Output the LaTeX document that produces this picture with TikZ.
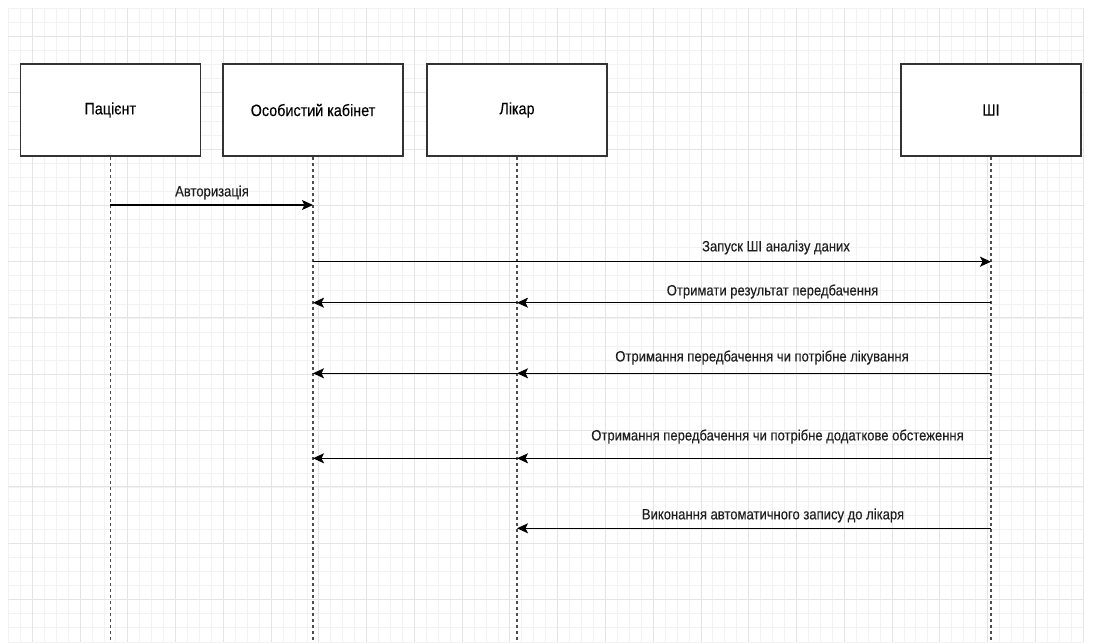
\documentclass[tikz,border=0pt]{standalone}
\usepackage{fontspec}
\setmainfont{Liberation Sans}[FakeStretch=0.87,FakeBold=0.2]
\usetikzlibrary{arrows.meta}
\definecolor{gridminor}{HTML}{F2F2F2}
\definecolor{gridmajor}{HTML}{E4E4E4}
\definecolor{lifegray}{HTML}{4D4D4D}
\definecolor{boxline}{HTML}{333333}

\begin{document}
\begin{tikzpicture}[x=1pt,y=-1pt,
    actor/.style={draw=boxline,line width=1.5pt,fill=white,minimum width=180pt,minimum height=92pt,inner sep=0pt,font=\fontsize{16.5}{18}\selectfont},
    lifeline/.style={draw=lifegray,line width=1.6pt,dash pattern=on 3.5pt off 2.5pt},
    msg/.style={draw=black,line width=1.2pt,-{Stealth[length=11pt,width=10pt,inset=2.5pt]}},
    msglabel/.style={font=\fontsize{15}{17}\selectfont,text=black!88,inner sep=0pt}]
        \useasboundingbox (0,0) rectangle (1094,642);
        \fill[white] (0,0) rectangle (1094,642);
        % Grid
        \foreach \i in {0,...,90}
            \draw[gridminor,line width=0.8pt] (8.4+\i*11.94,8.3) -- (8.4+\i*11.94,642);
        \foreach \j in {0,...,45}
            \draw[gridminor,line width=0.8pt] (8.4,8.3+\j*14.08) -- (1083,8.3+\j*14.08);
        \foreach \i in {0,...,22}
            \draw[gridmajor,line width=0.9pt] (32.3+\i*47.76,8.3) -- (32.3+\i*47.76,642);
        \foreach \j in {0,...,10}
            \draw[gridmajor,line width=0.9pt] (8.4,36.4+\j*56.3) -- (1083,36.4+\j*56.3);

        % Actors
        \node[actor] (pat) at (110.3,110) {Пацієнт};
        \node[actor] (cab) at (313,110) {Особистий кабінет};
        \node[actor] (doc) at (517,110) {Лікар};
        \node[actor] (ai) at (991,110) {ШІ};

        % Lifelines
        \draw[lifeline] (pat.south) -- (pat.south |- 0,642);
        \draw[lifeline] (cab.south) -- (cab.south |- 0,642);
        \draw[lifeline] (doc.south) -- (doc.south |- 0,642);
        \draw[lifeline] (ai.south) -- (ai.south |- 0,642);

        % Messages
        \draw[msg] (pat |- 0,205) -- (cab |- 0,205);
        \node[msglabel] (m1) at (212,192.5) {Авторизація};

        \draw[msg] (cab |- 0,261.7) -- (ai |- 0,261.7);
        \node[msglabel] (m2) at (776,247.5) {Запуск ШІ аналізу даних};

        \draw[msg] (ai |- 0,302.7) -- (doc |- 0,302.7);
        \draw[msg] (doc |- 0,302.7) -- (cab |- 0,302.7);
        \node[msglabel] (m3) at (772.5,291.5) {Отримати результат передбачення};

        \draw[msg] (ai |- 0,373.3) -- (doc |- 0,373.3);
        \draw[msg] (doc |- 0,373.3) -- (cab |- 0,373.3);
        \node[msglabel] (m4) at (762,357.5) {Отримання передбачення чи потрібне лікування};

        \draw[msg] (ai |- 0,458.3) -- (doc |- 0,458.3);
        \draw[msg] (doc |- 0,458.3) -- (cab |- 0,458.3);
        \node[msglabel] (m5) at (777.5,436.5) {Отримання передбачення чи потрібне додаткове обстеження};

        \draw[msg] (ai |- 0,528.3) -- (doc |- 0,528.3);
        \node[msglabel] (m6) at (773,515.5) {Виконання автоматичного запису до лікаря};
    \end{tikzpicture}
\end{document}
